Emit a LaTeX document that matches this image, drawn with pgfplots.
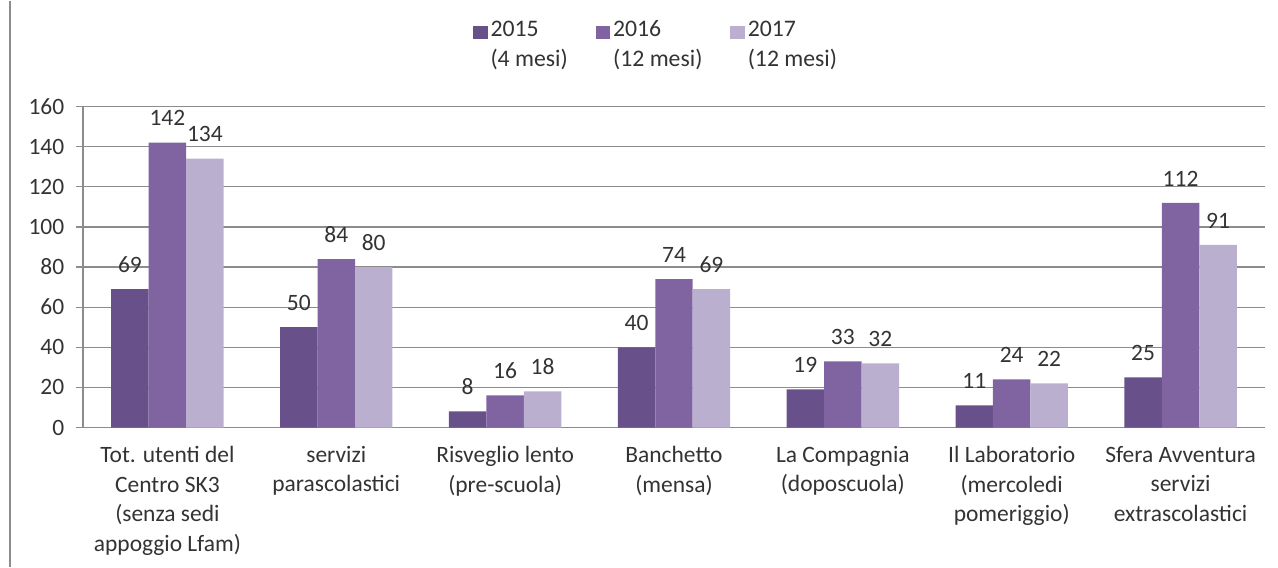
\documentclass[border=0pt]{standalone}
\usepackage{pgfplots}
\pgfplotsset{compat=1.18}
\usepackage{fontspec}
\setmainfont{Carlito}
\definecolor{cA}{HTML}{68508A}
\definecolor{cB}{HTML}{8064A2}
\definecolor{cC}{HTML}{BBAFCF}
\definecolor{txt}{HTML}{333333}
\definecolor{gridc}{HTML}{8C8C8C}
\begin{document}
\begin{tikzpicture}[x=1pt,y=1pt]
\begin{axis}[
  scale only axis,
  width=886.5pt, height=240.75pt,
  xmin=-0.5, xmax=6.5, ymin=0, ymax=160,
  ybar=0pt, bar width=28.1pt,
  axis lines*=left,
  axis line style={gridc, line width=0.9pt},
  ytick={0,20,...,160},
  ymajorgrids, grid style={gridc, line width=0.9pt},
  major tick length=5.5pt,
  tick style={gridc, line width=0.9pt},
  tick align=outside,
  xtick={0,...,6},
  xtick style={draw=none},
  extra x ticks={-0.5,0.5,1.5,2.5,3.5,4.5,5.5,6.5},
  extra x tick labels={},
  extra x tick style={xtick style={gridc, line width=0.9pt}, grid=none},
  xticklabels={{Tot. utenti del\\Centro SK3\\(senza sedi\\appoggio Lfam)},{servizi\\parascolastici},{Risveglio lento\\(pre-scuola)},{Banchetto\\(mensa)},{La Compagnia\\(doposcuola)},{Il Laboratorio\\(mercoledi\\pomeriggio)},{Sfera Avventura\\servizi\\extrascolastici}},
  xticklabel style={align=center, text=txt, font=\fontsize{17.6}{22.2}\selectfont, yshift=-5pt},
  yticklabel style={text=txt, font=\fontsize{17.6}{20}\selectfont, xshift=-5pt},
  /pgf/number format/assume math mode=true,
  nodes near coords,
  every node near coord/.append style={text=txt, font=\fontsize{17.6}{20}\selectfont, yshift=9pt},
  legend columns=3,
  legend style={at={(rel axis cs:0.3265,1.285)}, anchor=north west, draw=none, fill=none,
    font=\fontsize{17.8}{22.5}\selectfont, text=txt,
    cells={align=left, anchor=west},
    /tikz/every even column/.append style={column sep=19pt}},
  legend image code/.code={\fill[#1,draw=none] (1.5pt,4pt) rectangle (12.5pt,14pt);},
  clip=false,
]
\addplot[fill=cA, draw=none] coordinates {(0,69) (1,50) (2,8) (3,40) (4,19) (5,11) (6,25)};
\addplot[fill=cB, draw=none] coordinates {(0,142) (1,84) (2,16) (3,74) (4,33) (5,24) (6,112)};
\addplot[fill=cC, draw=none] coordinates {(0,134) (1,80) (2,18) (3,69) (4,32) (5,22) (6,91)};
\legend{{2015\\(4 mesi)},{2016\\(12 mesi)},{2017\\(12 mesi)}}
\draw[gridc, line width=0.9pt] (rel axis cs:-0.0618,1.330) -- (rel axis cs:-0.0618,-0.433);
\path[use as bounding box] (rel axis cs:-0.0702,1.330) rectangle (rel axis cs:1.0110,-0.433);
\end{axis}
\end{tikzpicture}
\end{document}
